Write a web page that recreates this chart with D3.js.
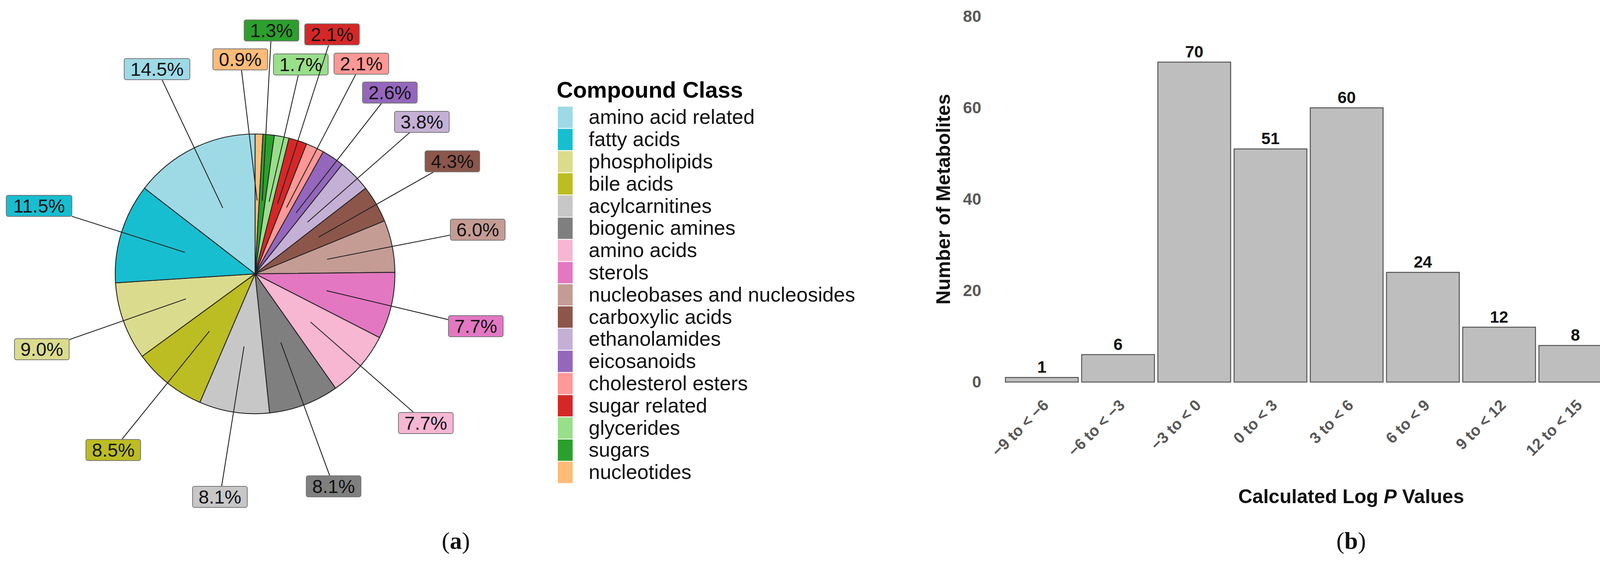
<!DOCTYPE html>
<html><head><meta charset="utf-8">
<script src="https://cdn.jsdelivr.net/npm/d3@7"></script>
<style>html,body{margin:0;background:#fff;overflow:hidden}svg{display:block;font-family:"Liberation Sans",Arial,sans-serif}</style>
</head><body><div id="graphic"></div>
<script>
// pie data (legend order)
const classes = ["amino acid related","fatty acids","phospholipids","bile acids","acylcarnitines","biogenic amines","amino acids","sterols","nucleobases and nucleosides","carboxylic acids","ethanolamides","eicosanoids","cholesterol esters","sugar related","glycerides","sugars","nucleotides"];
const shares = [14.5,11.5,9.0,8.5,8.1,8.1,7.7,7.7,6.0,4.3,3.8,2.6,2.1,2.1,1.7,1.3,0.9];
const colors = ["#9edae5","#17becf","#dbdb8d","#bcbd22","#c7c7c7","#7f7f7f","#f7b6d2","#e377c2","#c49c94","#8c564b","#c5b0d5","#9467bd","#ff9896","#d62728","#98df8a","#2ca02c","#ffbb78"];
// label box centres relative to pie centre (layout)
const labelPos = [[-251,-524],[-553,-174],[-546,193],[-363,451],[-90,571],[201,544],[437,382],[565,134],[570,-113],[505,-288],[427,-389],[345,-464],[272,-538],[197,-613],[117,-536],[42,-623],[-38,-549]];

// histogram data
const bins = ["\u22129 to < \u22126","\u22126 to < \u22123","\u22123 to < 0","0 to < 3","3 to < 6","6 to < 9","9 to < 12","12 to < 15","15 to < 18"];
const counts = [1,6,70,51,60,24,12,8,3];
const yTicks = [0,20,40,60,80];

const svg = d3.select("#graphic").append("svg").attr("width",4343).attr("height",1495);

// ---- pie ----
const cx = 653, cy = 701, R = 358;
const pieG = svg.append("g").attr("transform",`translate(${cx},${cy})`);
const items = classes.map((c,i)=>({name:c,value:shares[i],color:colors[i],pos:labelPos[i]}));
const pie = d3.pie().value(d=>d.value).sort(null);
const arcs = pie(items.slice().reverse());
const arc = d3.arc().innerRadius(0).outerRadius(R);
const inner = d3.arc().innerRadius(0).outerRadius(R*1.05);
pieG.selectAll("path.slice").data(arcs).enter().append("path")
  .attr("d",arc).attr("fill",d=>d.data.color).attr("stroke","#222").attr("stroke-width",2.2);

const bh = 54;
arcs.forEach(a=>{
  const [sx,sy] = inner.centroid(a);
  const [lx,ly] = a.data.pos;
  const w = a.data.value>=10 ? 168 : 140;
  // point where leader meets the label box
  const dx = sx-lx, dy = sy-ly;
  const t = Math.min((w/2)/Math.abs(dx||1e-6),(bh/2)/Math.abs(dy||1e-6));
  pieG.append("line").attr("x1",sx).attr("y1",sy).attr("x2",lx+dx*t).attr("y2",ly+dy*t)
    .attr("stroke","#222").attr("stroke-width",2.2);
  pieG.append("rect").attr("x",lx-w/2).attr("y",ly-bh/2).attr("width",w).attr("height",bh)
    .attr("rx",5).attr("fill",a.data.color).attr("stroke","#777").attr("stroke-width",2);
  pieG.append("text").attr("x",lx).attr("y",ly+17).attr("text-anchor","middle")
    .attr("font-size",48).attr("fill","#111").text(a.data.value.toFixed(1)+"%");
});

// legend
const leg = svg.append("g").attr("transform","translate(1425,0)");
leg.append("text").attr("x",0).attr("y",250).attr("font-size",58).attr("font-weight","bold").text("Compound Class");
const ly0 = 272, lstep = 56.8;
items.forEach((d,i)=>{
  leg.append("rect").attr("x",2).attr("y",ly0+i*lstep).attr("width",40).attr("height",lstep)
    .attr("fill",d.color).attr("stroke","#fff").attr("stroke-width",2);
  leg.append("text").attr("x",82).attr("y",ly0+i*lstep+lstep/2+17).attr("font-size",52).attr("fill","#111").text(d.name);
});

// ---- bar chart ----
const m = {left:2570, right:4325, top:42, bottom:978};
const x = d3.scaleBand().domain(bins).range([m.left,m.right]).paddingInner(0.045).paddingOuter(0.02);
const y = d3.scaleLinear().domain([0,80]).range([m.bottom,m.top]);
const bar = svg.append("g");
bar.selectAll("rect").data(counts).enter().append("rect")
  .attr("x",(d,i)=>x(bins[i])).attr("y",d=>y(d)).attr("width",x.bandwidth()).attr("height",d=>y(0)-y(d))
  .attr("fill","#bebebe").attr("stroke","#555").attr("stroke-width",2.5);
bar.selectAll("text.val").data(counts).enter().append("text")
  .attr("x",(d,i)=>x(bins[i])+x.bandwidth()/2).attr("y",d=>y(d)-12).attr("text-anchor","middle")
  .attr("font-size",42).attr("font-weight","bold").attr("fill","#111").text(d=>d);

const yAxis = d3.axisLeft(y).tickValues(yTicks).tickSize(0).tickPadding(0);
const ya = bar.append("g").attr("transform",`translate(2512,0)`).call(yAxis);
ya.select(".domain").remove();
ya.selectAll("text").attr("font-size",42).attr("font-weight","bold").attr("fill","#595959")
  .attr("font-family","Liberation Sans, Arial, sans-serif");

const xAxis = d3.axisBottom(x).tickSize(0).tickPadding(0);
const xa = bar.append("g").attr("transform",`translate(0,1020)`).call(xAxis);
xa.select(".domain").remove();
xa.selectAll("text").attr("font-size",40).attr("font-weight","bold").attr("fill","#595959")
  .attr("font-family","Liberation Sans, Arial, sans-serif")
  .attr("text-anchor","end").attr("dy","0.7em").attr("transform","rotate(-45)");

svg.append("text").attr("transform","translate(2432,510) rotate(-90)").attr("text-anchor","middle")
  .attr("font-size",50).attr("font-weight","bold").attr("fill","#111").text("Number of Metabolites");
const xt = svg.append("text").attr("x",3459).attr("y",1288).attr("text-anchor","middle")
  .attr("font-size",50).attr("font-weight","bold").attr("fill","#111");
xt.append("tspan").text("Calculated Log ");
xt.append("tspan").attr("font-style","italic").text("P");
xt.append("tspan").text(" Values");

// panel letters
[["a",1167],["b",3459]].forEach(([l,px])=>{
  const t = svg.append("text").attr("x",px).attr("y",1405).attr("text-anchor","middle")
    .attr("font-family","Liberation Serif, Times New Roman, serif").attr("font-size",62).attr("fill","#111");
  t.append("tspan").text("(");
  t.append("tspan").attr("font-weight","bold").text(l);
  t.append("tspan").text(")");
});
</script></body></html>
